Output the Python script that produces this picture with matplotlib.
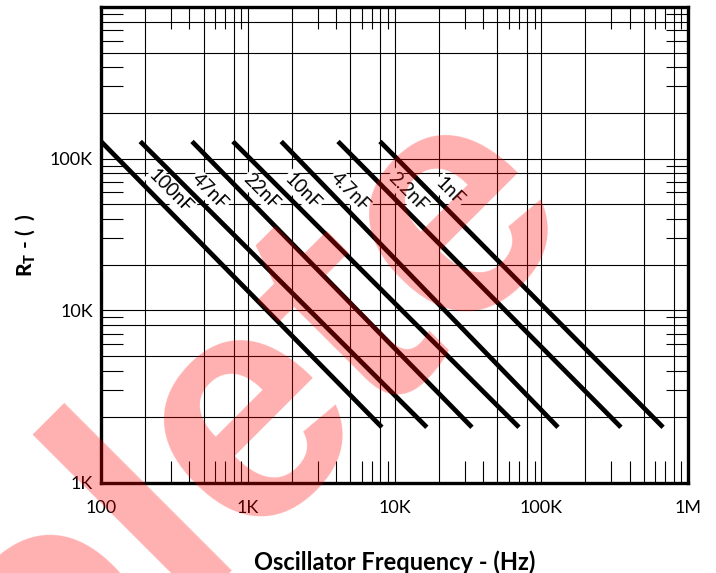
import matplotlib
matplotlib.use('Agg')
import matplotlib.pyplot as plt
import numpy as np

# capacitor curves (Hz, ohms)
caps = ['100nF', '47nF', '22nF', '10nF', '4.7nF', '2.2nF', '1nF']
f_start = [100, 185, 417, 792, 1690, 4120, 7960]
f_end = [8200, 16600, 33700, 70500, 130000, 349000, 676000]
r_start = [130000] * 7
r_end = [1700] * 7

x_ticks = [100, 1e3, 1e4, 1e5, 1e6]
x_labels = ['100', '1K', '10K', '100K', '1M']
y_min, y_max = 730, 1.0e6
y_ticks = [y_min, 1e4, 1e5]
y_labels = ['1K', '10K', '100K']

grid_mult = [2, 5, 8, 10]
tick_mult = [3, 4, 6, 7, 9]

plt.rcParams['font.family'] = ['Lato', 'DejaVu Sans']
plt.rcParams['mathtext.fontset'] = 'custom'
plt.rcParams['mathtext.rm'] = 'Lato'
plt.rcParams['mathtext.bf'] = 'Lato:black'

fig = plt.figure(figsize=(7.16, 5.73), dpi=100)
ax = fig.add_axes([0.1411, 0.1571, 0.8198, 0.8307])
ax.set_xscale('log')
ax.set_yscale('log')
ax.set_xlim(100, 1e6)
ax.set_ylim(y_min, y_max)

# grid lines at 2, 5, 8, 10 of every decade
xg = [m * 10 ** d for d in range(2, 6) for m in grid_mult]
yg = [m * 10 ** d for d in range(3, 6) for m in grid_mult]
for v in xg:
    if 100 < v < 1e6:
        ax.axvline(v, color='black', lw=0.8, zorder=1)
for v in yg:
    if y_min < v < y_max:
        ax.axhline(v, color='black', lw=0.8, zorder=1)

# short ticks at 3, 4, 6, 7, 9
xt = [m * 10 ** d for d in range(2, 6) for m in tick_mult]
yt = [m * 10 ** d for d in range(3, 6) for m in tick_mult]
yt = [v for v in yt if v > 2500]
ax.set_xticks(xt, minor=True)
ax.set_yticks(yt, minor=True)
ax.set_xticklabels([], minor=True)
ax.set_yticklabels([], minor=True)
ax.tick_params(which='minor', direction='in', length=16, width=0.8,
               top=True, right=True, bottom=True, left=True)

ax.set_xticks(x_ticks)
ax.set_xticklabels(x_labels)
ax.set_yticks(y_ticks)
ax.set_yticklabels(y_labels)
ax.tick_params(which='major', length=0, labelsize=13, pad=12)
ax.tick_params(axis='y', which='major', pad=6)

for s in ax.spines.values():
    s.set_linewidth(2.4)
    s.set_zorder(4)

for i in range(len(caps)):
    ax.plot([f_start[i], f_end[i]], [r_start[i], r_end[i]], color='black',
            lw=3.4, solid_capstyle='butt', zorder=3)
    ax.annotate(caps[i], xy=(f_start[i], r_start[i]), xytext=(50, -36),
                textcoords='offset points', rotation=-45,
                rotation_mode='anchor', ha='center', va='center',
                fontsize=13.5, zorder=2,
                bbox=dict(facecolor='white', edgecolor='none', pad=1))

ax.set_xlabel('Oscillator Frequency - (Hz)', fontsize=17, fontweight='bold',
              labelpad=25)
ax.set_ylabel(r'$\mathbf{R_T}$ - (  )', fontsize=15, fontweight='bold',
              labelpad=9)

fig.text(0.809, 0.632, 'Obsolete', rotation=45, rotation_mode='anchor',
         ha='right', va='baseline', fontsize=235, family='Liberation Sans',
         fontweight='bold', color='red', alpha=0.31, zorder=10)

fig.savefig('out.png', dpi=100)
